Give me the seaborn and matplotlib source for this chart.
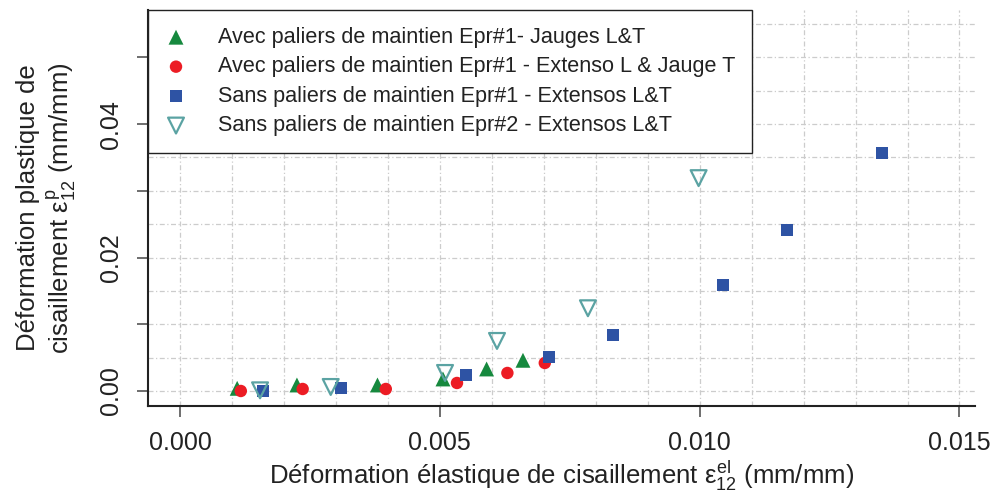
import numpy as np
import pandas as pd
import matplotlib
matplotlib.use("Agg")
import matplotlib.pyplot as plt
import seaborn as sns

# Données
avec_jauges_x = [0.00110, 0.00225, 0.00380, 0.00506, 0.00590, 0.00660]
avec_jauges_y = [0.0004, 0.0009, 0.0009, 0.0018, 0.0033, 0.0046]

avec_extenso_x = [0.00117, 0.00236, 0.00396, 0.00533, 0.00630, 0.00702]
avec_extenso_y = [0.0000, 0.0003, 0.0003, 0.0012, 0.0027, 0.0042]

sans1_x = [0.00160, 0.00310, 0.00550, 0.00710, 0.00833, 0.01045, 0.01168, 0.01350]
sans1_y = [0.0000, 0.0005, 0.0024, 0.0051, 0.0084, 0.0159, 0.0241, 0.0357]

sans2_x = [0.00154, 0.00290, 0.00510, 0.00610, 0.00785, 0.00998]
sans2_y = [0.0001, 0.0006, 0.0027, 0.0075, 0.0124, 0.0319]

labels = [
    "Avec paliers de maintien Epr#1- Jauges L&T",
    "Avec paliers de maintien Epr#1 - Extenso L & Jauge T",
    "Sans paliers de maintien Epr#1 - Extensos L&T",
    "Sans paliers de maintien Epr#2 - Extensos L&T",
]

sns.set_style("white")
plt.rcParams['font.family'] = ['Liberation Sans', 'DejaVu Sans']
plt.rcParams['mathtext.fontset'] = 'custom'
plt.rcParams['mathtext.rm'] = 'Liberation Sans'
plt.rcParams['mathtext.it'] = 'Liberation Sans'

fig = plt.figure(figsize=(9.97, 4.95), dpi=100)
ax = fig.add_axes([0.1485, 0.1798, 0.8295, 0.80])

# grille pointillée
grid_kw = dict(color='#cccccc', lw=0.9, ls=(0, (4, 2, 1, 2)), zorder=0)
for gx in np.arange(0, 0.0151, 0.001):
    ax.axvline(gx, **grid_kw)
for gy in np.arange(0, 0.0576, 0.005):
    ax.axhline(gy, **grid_kw)

sns.scatterplot(x=avec_jauges_x, y=avec_jauges_y, marker='^', s=115, color='#16893e',
                edgecolor='none', label=labels[0], ax=ax, zorder=3)
sns.scatterplot(x=avec_extenso_x, y=avec_extenso_y, marker='o', s=80, color='#ec1c24',
                edgecolor='none', label=labels[1], ax=ax, zorder=3)
sns.scatterplot(x=sans1_x, y=sans1_y, marker='s', s=75, color='#2e53a4',
                edgecolor='none', label=labels[2], ax=ax, zorder=3)
sns.scatterplot(x=sans2_x, y=sans2_y, marker='v', s=130, facecolor='none',
                edgecolor='#5ba3a3', linewidth=1.6, label=labels[3], ax=ax, zorder=3)

ax.set_xlim(-0.000615, 0.0153)
ax.set_ylim(-0.00225, 0.0571)

ax.set_xticks([0, 0.005, 0.010, 0.015])
ax.set_xticklabels(["0.000", "0.005", "0.010", "0.015"])
ax.set_yticks([0, 0.01, 0.02, 0.03, 0.04, 0.05])
ax.set_yticklabels(["0.00", "", "0.02", "", "0.04", ""], rotation=90, va='center')
ax.tick_params(axis='both', labelsize=18, length=8, width=1.2, color='#555555',
               direction='out', bottom=True, left=True, labelcolor='#222222')
ax.tick_params(axis='y', pad=10)
ax.tick_params(axis='x', pad=10)

for side in ['top', 'right']:
    ax.spines[side].set_visible(False)
for side in ['left', 'bottom']:
    ax.spines[side].set_color('#222222')
    ax.spines[side].set_linewidth(1.5)

ax.set_xlabel(r"Déformation élastique de cisaillement $\varepsilon_{12}^{el}$ (mm/mm)",
              fontsize=18.5, color='#222222', labelpad=2.5)
ax.set_ylabel("Déformation plastique de\n" + r"cisaillement $\varepsilon_{12}^{p}$ (mm/mm)",
              fontsize=18.5, color='#222222', labelpad=15, linespacing=1.2)

leg = ax.legend(loc='upper left', bbox_to_anchor=(0, 1), borderaxespad=0,
                fontsize=15.6, frameon=True, fancybox=False, edgecolor='#222222',
                handletextpad=1.43, labelspacing=0.39, borderpad=0.78, handlelength=1.02)
leg.get_frame().set_linewidth(1.0)
leg.get_frame().set_alpha(1)
for t in leg.get_texts():
    t.set_color('#222222')

fig.savefig("out.png", dpi=100)
